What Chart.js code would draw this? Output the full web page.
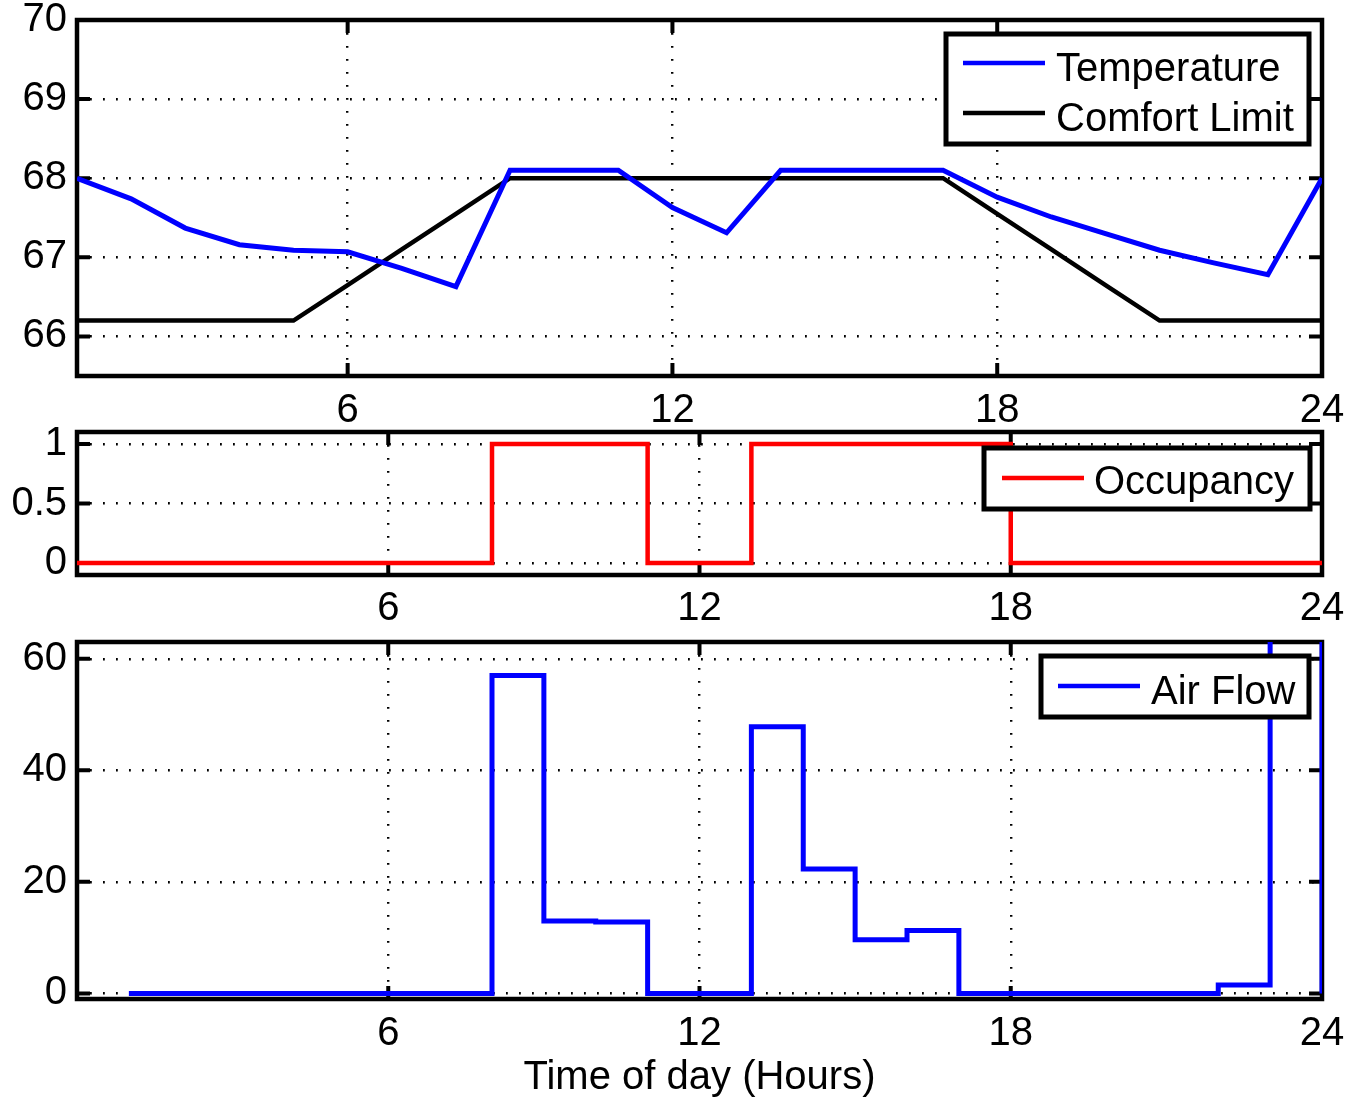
<!DOCTYPE html>
<html>
<head>
<meta charset="utf-8">
<script src="https://cdn.jsdelivr.net/npm/chart.js@4.4.1/dist/chart.umd.min.js"></script>
<style>
  html, body { margin: 0; padding: 0; background: #fff; }
  canvas { position: absolute; left: 0; }
</style>
</head>
<body>
<canvas id="tempChart" width="1349" height="425" style="top:0px"></canvas>
<canvas id="occChart" width="1349" height="205" style="top:420px"></canvas>
<canvas id="flowChart" width="1349" height="474" style="top:625px"></canvas>
<script>
// --- data ---
const tempHours = [1, 2, 3, 4, 5, 6, 7, 8, 9, 10, 11, 12, 13, 14, 15, 16, 17, 18, 19, 20, 21, 22, 23, 24];
const temperature = [68.0, 67.74, 67.37, 67.16, 67.09, 67.07, 66.86, 66.63, 68.1, 68.1, 68.1, 67.63,
                     67.31, 68.1, 68.1, 68.1, 68.1, 67.76, 67.51, 67.3, 67.09, 66.93, 66.78, 68.0];
const comfortLimit = [66.2, 66.2, 66.2, 66.2, 66.2, 66.65, 67.1, 67.55, 68, 68, 68, 68,
                      68, 68, 68, 68, 68, 67.55, 67.1, 66.65, 66.2, 66.2, 66.2, 66.2];

const occHours = [0, 1, 2, 3, 4, 5, 6, 7, 8, 9, 10, 11, 12, 13, 14, 15, 16, 17, 18, 19, 20, 21, 22, 23, 24];
const occupancy = [0, 0, 0, 0, 0, 0, 0, 0, 1, 1, 1, 0, 0, 1, 1, 1, 1, 1, 0, 0, 0, 0, 0, 0, 0];

const flowHours = [1, 2, 3, 4, 5, 6, 7, 8, 9, 10, 11, 12, 13, 14, 15, 16, 17, 18, 19, 20, 21, 22, 23, 24];
const airFlow = [0, 0, 0, 0, 0, 0, 0, 57, 13, 12.8, 0, 0, 47.8, 22.3, 9.6, 11.3, 0, 0, 0, 0, 0, 1.5, 75, 0];

const hourTicks = [6, 12, 18, 24];
const tempTicks = [66, 67, 68, 69, 70];
const occTicks = [0, 0.5, 1];
const flowTicks = [0, 20, 40, 60];

const FONT = "'Liberation Sans', Arial, Helvetica, sans-serif";
const FONT_SIZE = 40;

function points(xs, ys) {
    return xs.map((x, i) => ({ x: x, y: ys[i] }));
}

// matlab-ish axes: dotted grid, no chart.js border (frame drawn by plugin)
function axis(min, max, ticks, size, isX, padding) {
    return {
        type: 'linear',
        min: min,
        max: max,
        afterBuildTicks: scale => { scale.ticks = ticks.map(v => ({ value: v })); },
        afterFit: scale => {
            if (isX) {
                scale.height = size;
                scale.paddingLeft = 0;
                scale.paddingRight = 0;
            } else {
                scale.width = size;
                scale.paddingTop = 0;
                scale.paddingBottom = 0;
            }
        },
        grid: { color: '#000', lineWidth: 2.4, drawTicks: false },
        border: { display: false, dash: [1.8, 11.2] },
        ticks: {
            color: '#000',
            font: { family: FONT, size: FONT_SIZE },
            padding: padding,
            autoSkip: false,
            maxRotation: 0,
            callback: v => String(v)
        }
    };
}

const framePlugin = {
    id: 'frame',
    beforeDatasetsDraw(chart) {
        const { ctx, chartArea: a, scales } = chart;
        ctx.save();
        ctx.strokeStyle = '#000';
        ctx.lineWidth = 4;
        ctx.beginPath();
        scales.x.ticks.forEach(t => {
            const px = scales.x.getPixelForValue(t.value);
            ctx.moveTo(px, a.bottom); ctx.lineTo(px, a.bottom - 13);
            ctx.moveTo(px, a.top); ctx.lineTo(px, a.top + 13);
        });
        scales.y.ticks.forEach(t => {
            const py = scales.y.getPixelForValue(t.value);
            ctx.moveTo(a.left, py); ctx.lineTo(a.left + 13, py);
            ctx.moveTo(a.right, py); ctx.lineTo(a.right - 13, py);
        });
        ctx.stroke();
        ctx.lineWidth = 4.5;
        ctx.strokeRect(a.left, a.top, a.right - a.left, a.bottom - a.top);
        ctx.restore();
    }
};

// boxed legend in the upper right, like matlab's
const boxLegendPlugin = {
    id: 'boxLegend',
    afterDraw(chart, args, opts) {
        const ctx = chart.ctx;
        const [bx, by, bw, bh] = opts.box;
        ctx.save();
        ctx.fillStyle = '#fff';
        ctx.fillRect(bx, by, bw, bh);
        ctx.lineWidth = 5;
        ctx.strokeStyle = '#000';
        ctx.strokeRect(bx, by, bw, bh);
        ctx.font = FONT_SIZE + 'px ' + FONT;
        ctx.textBaseline = 'alphabetic';
        chart.data.datasets.forEach((ds, i) => {
            const [lineY, textY] = opts.rows[i];
            ctx.strokeStyle = ds.borderColor;
            ctx.lineWidth = 4.5;
            ctx.beginPath();
            ctx.moveTo(opts.sampleX[0], lineY);
            ctx.lineTo(opts.sampleX[1], lineY);
            ctx.stroke();
            ctx.fillStyle = '#000';
            ctx.fillText(ds.label, opts.textX, textY);
        });
        ctx.restore();
    }
};

function makeChart(canvasId, datasets, scales, padTop, legendOpts) {
    const ctx = document.getElementById(canvasId).getContext('2d');
    return new Chart(ctx, {
        type: 'line',
        data: { datasets: datasets },
        options: {
            responsive: false,
            animation: false,
            devicePixelRatio: 1,
            layout: { padding: { top: padTop, right: 27, left: 0, bottom: 0 } },
            elements: { point: { radius: 0 }, line: { tension: 0 } },
            scales: scales,
            plugins: {
                legend: { display: false },
                tooltip: { enabled: false },
                boxLegend: legendOpts
            }
        },
        plugins: [framePlugin, boxLegendPlugin]
    });
}

makeChart('tempChart', [
    { label: 'Temperature', data: points(tempHours, temperature), borderColor: '#0000ff', borderWidth: 5 },
    { label: 'Comfort Limit', data: points(tempHours, comfortLimit), borderColor: '#000000', borderWidth: 4.5 }
], {
    x: axis(1, 24, hourTicks, 49, true, 11),
    y: axis(65.5, 70, tempTicks, 77, false, 10)
}, 20, { box: [946, 34, 363, 110], sampleX: [963, 1045], textX: 1056, rows: [[63, 81], [113, 131]] });

makeChart('occChart', [
    { label: 'Occupancy', data: points(occHours, occupancy), borderColor: '#ff0000', borderWidth: 4.5, stepped: 'before' }
], {
    x: axis(0, 24, hourTicks, 50, true, 10),
    y: axis(-0.1, 1.1, occTicks, 77, false, 10)
}, 12, { box: [984, 28, 326, 61], sampleX: [1002, 1084], textX: 1094, rows: [[58, 74]] });

const flowScales = {
    x: axis(0, 24, hourTicks, 100, true, 11),
    y: axis(-1, 63, flowTicks, 77, false, 10)
};
flowScales.x.title = {
    display: true,
    text: 'Time of day (Hours)',
    color: '#000',
    font: { family: FONT, size: FONT_SIZE },
    padding: { top: 0, bottom: -3 }
};

makeChart('flowChart', [
    { label: 'Air Flow', data: points(flowHours, airFlow), borderColor: '#0000ff', borderWidth: 5, stepped: 'before' }
], flowScales, 17, { box: [1041, 31, 268, 61], sampleX: [1058, 1140], textX: 1151, rows: [[61, 79]] });
</script>
</body>
</html>
